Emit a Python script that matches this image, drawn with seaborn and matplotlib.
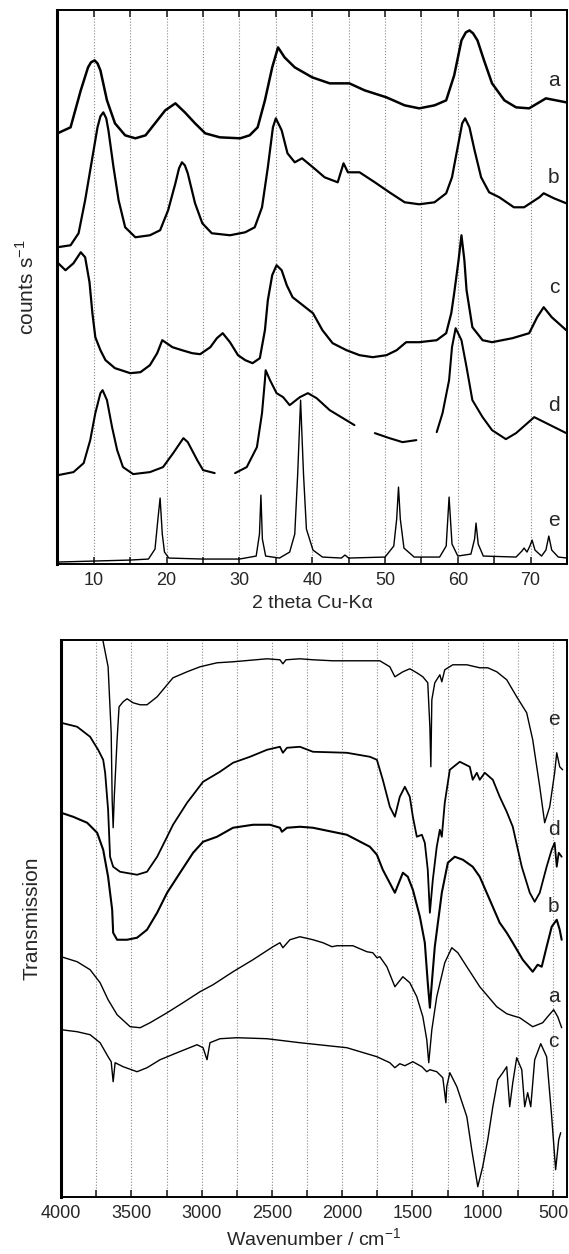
import numpy as np
import pandas as pd
import matplotlib
matplotlib.use("Agg")
import matplotlib.pyplot as plt
from matplotlib.ticker import MultipleLocator
import seaborn as sns

# ---------------- XRD data (2 theta, counts, arbitrary offset units) ----------------
xrd_a_2theta = [5.0, 6.8, 8.2, 9.2, 9.6, 10.1, 10.5, 10.9, 11.8, 12.9, 14.3, 15.7, 17.1, 18.4,
                19.8, 21.2, 22.5, 23.9, 25.3, 27.3, 30.1, 31.4, 32.5, 33.5, 34.5, 35.3, 36.2,
                37.6, 40.0, 42.4, 45.1, 47.2, 50.2, 52.7, 54.7, 56.8, 58.4, 59.5, 60.5, 61.1,
                61.6, 62.1, 62.7, 63.6, 64.7, 66.4, 68.0, 69.8, 72.1, 74.9]
xrd_a_counts = [431, 437, 474, 497, 502, 504, 501, 494, 464, 441, 429, 426, 429, 441,
                454, 461, 452, 441, 431, 427, 426, 429, 437, 464, 497, 517, 507,
                497, 487, 481, 481, 474, 467, 459, 456, 459, 464, 489, 524, 532,
                534, 531, 524, 504, 481, 464, 457, 456, 466, 462]

xrd_b_2theta = [5.0, 6.8, 7.9, 8.8, 9.8, 10.5, 10.9, 11.3, 11.7, 12.0, 12.7, 13.4, 14.3, 15.7,
                17.7, 19.1, 20.2, 21.2, 21.7, 22.1, 22.5, 22.9, 23.9, 24.9, 26.2, 28.7, 30.8,
                32.1, 33.1, 33.9, 34.6, 35.0, 35.8, 36.6, 37.6, 38.6, 40.1, 41.7, 43.5, 44.3,
                44.9, 46.5, 48.6, 50.6, 52.7, 54.7, 56.8, 58.4, 59.2, 59.9, 60.6, 61.0, 61.6,
                62.3, 63.2, 64.3, 65.7, 67.7, 69.1, 71.2, 71.8, 73.2, 74.9]
xrd_b_counts = [317, 319, 331, 364, 407, 437, 448, 452, 446, 434, 397, 364, 337, 327,
                329, 334, 354, 381, 396, 402, 399, 391, 361, 341, 331, 329, 332,
                337, 357, 397, 437, 446, 434, 411, 402, 406, 397, 387, 382, 401,
                392, 392, 382, 372, 362, 360, 362, 371, 387, 414, 441, 446, 437,
                414, 387, 372, 367, 357, 357, 367, 371, 366, 361]

xrd_c_2theta = [5.1, 6.1, 7.2, 8.2, 8.8, 9.4, 9.8, 10.2, 10.9, 11.6, 12.9, 15.0, 16.4, 17.7,
                18.7, 19.4, 19.8, 20.8, 22.1, 23.5, 24.6, 26.0, 26.9, 27.7, 28.7, 29.8, 30.8,
                31.8, 32.8, 33.5, 33.9, 34.5, 35.1, 35.8, 36.5, 37.3, 40.1, 41.4, 42.8, 44.7,
                46.5, 48.3, 50.2, 51.6, 52.9, 54.7, 57.1, 58.4, 59.1, 59.5, 60.1, 60.5, 60.9,
                61.2, 62.0, 63.4, 64.7, 67.5, 69.8, 70.9, 71.8, 72.9, 74.9]
xrd_c_counts = [301, 294, 301, 312, 307, 282, 251, 227, 214, 204, 196, 191, 192, 199,
                211, 224, 222, 217, 214, 211, 210, 217, 226, 231, 222, 209, 204,
                201, 206, 234, 264, 289, 299, 294, 279, 267, 251, 234, 221, 214,
                209, 207, 209, 214, 222, 222, 224, 231, 251, 271, 304, 329, 304,
                274, 237, 224, 222, 226, 231, 247, 257, 247, 234]

# curve d is broken in three places
xrd_d_seg = [0] * 20 + [1] * 15 + [2] * 4 + [3] * 14
xrd_d_2theta = [5.1, 7.2, 8.6, 9.5, 10.2, 10.9, 11.2, 11.8, 12.5, 13.2, 14.0, 15.4, 17.7, 19.5,
                20.9, 22.3, 22.9, 24.2, 25.0, 26.6,
                29.4, 31.0, 32.4, 33.1, 33.5, 33.6, 34.2, 35.1, 36.0, 36.9, 38.3, 39.4, 40.6,
                42.4, 45.8,
                48.6, 50.6, 52.4, 54.3,
                57.1, 57.9, 58.8, 59.2, 59.7, 60.5, 61.2, 62.0, 63.4, 64.7, 66.6, 68.0, 70.5,
                74.9]
xrd_d_counts = [89, 92, 101, 124, 151, 171, 174, 164, 137, 114, 97, 90, 92, 97,
                111, 126, 122, 104, 94, 91,
                91, 97, 117, 151, 184, 194, 184, 171, 167, 159, 167, 171, 166,
                154, 139,
                131, 126, 122, 124,
                132, 151, 184, 217, 236, 224, 197, 164, 147, 134, 125, 131, 147,
                131]

xrd_e_2theta = [5.0, 10.0, 15.0, 17.5, 18.4, 18.8, 19.1, 19.4, 19.7, 20.3, 25.0, 30.0, 32.3,
                32.75, 32.95, 33.15, 33.6, 35.5, 36.9, 37.6, 38.0, 38.4, 38.8, 39.2, 40.1,
                41.4, 44.0, 44.5, 45.0, 50.0, 51.2, 51.6, 51.85, 52.1, 52.6, 54.0, 57.5,
                58.4, 58.8, 59.2, 60.0, 61.8, 62.3, 62.5, 62.8, 63.5, 68.0, 68.8, 69.1,
                69.5, 69.9, 70.2, 70.6, 71.5, 72.1, 72.5, 72.9, 73.8, 75.0]
xrd_e_counts = [2, 3, 4, 5, 15, 45, 66, 30, 12, 6, 5, 5, 8,
                30, 69, 25, 8, 6, 12, 30, 90, 164, 90, 35, 14,
                7, 6, 9, 6, 7, 18, 45, 77, 45, 16, 7, 7,
                18, 67, 20, 8, 10, 25, 41, 20, 8, 7, 13, 16,
                12, 18, 24, 14, 8, 14, 28, 14, 7, 6]

xrd_labels = ["a", "b", "c", "d", "e"]
xrd_label_y = [484, 387, 277, 159, 44]

# ---------------- IR data (wavenumber, transmission, arbitrary offset units) ----------------
ir_e_wn = [3760, 3701, 3666, 3644, 3637, 3630, 3622, 3602, 3588, 3559, 3531, 3488, 3438, 3389,
           3317, 3246, 3204, 3104, 3012, 2891, 2777, 2535, 2443, 2422, 2400, 2301, 2208, 2066,
           1924, 1753, 1732, 1661, 1625, 1568, 1519, 1469, 1426, 1391, 1376, 1369, 1362, 1341,
           1305, 1291, 1270, 1213, 1113, 1021, 964, 900, 829, 758, 687, 644, 594, 559, 523,
           488, 473, 452, 431]
ir_e_tr = [640, 555, 530, 464, 397, 369, 400, 457, 490, 495, 498, 494, 492, 492,
           500, 512, 519, 525, 530, 534, 535, 538, 537, 533, 537, 538, 537, 536,
           536, 536, 536, 530, 520, 525, 528, 524, 520, 514, 470, 430, 497, 514,
           522, 515, 527, 532, 532, 529, 529, 525, 517, 500, 484, 457, 410, 374, 390,
           424, 444, 430, 427]

ir_d_wn = [4000, 3886, 3794, 3737, 3701, 3687, 3666, 3652, 3630, 3581, 3460, 3389, 3317, 3246,
           3204, 3104, 2990, 2870, 2777, 2656, 2535, 2443, 2422, 2393, 2301, 2208, 1967, 1803,
           1753, 1711, 1661, 1625, 1590, 1554, 1519, 1497, 1469, 1433, 1412, 1391, 1376, 1355,
           1327, 1305, 1291, 1270, 1234, 1163, 1092, 1071, 1042, 1021, 985, 928, 879, 829,
           786, 722, 665, 630, 594, 545, 509, 488, 473, 459, 438]
ir_d_tr = [474, 470, 460, 447, 437, 424, 387, 340, 330, 325, 322, 325, 340, 360,
           372, 394, 415, 425, 434, 440, 447, 450, 444, 449, 450, 445, 444, 440,
           437, 417, 390, 380, 400, 410, 400, 380, 360, 362, 354, 327, 284, 317,
           350, 367, 360, 394, 427, 435, 430, 417, 424, 417, 424, 417, 400, 385,
           370, 330, 304, 295, 304, 330, 347, 354, 330, 344, 340]

ir_b_wn = [4000, 3915, 3815, 3744, 3701, 3666, 3637, 3630, 3602, 3531, 3460, 3389, 3317, 3246,
           3154, 3061, 2990, 2891, 2777, 2635, 2514, 2443, 2429, 2393, 2301, 2208, 1967, 1803,
           1753, 1711, 1625, 1568, 1533, 1497, 1447, 1412, 1391, 1376, 1362, 1341, 1291, 1248,
           1199, 1141, 1071, 1021, 950, 879, 829, 786, 715, 644, 609, 580, 545, 509, 473,
           452, 438]
ir_b_tr = [384, 380, 374, 364, 347, 320, 287, 264, 257, 257, 259, 267, 284, 304,
           324, 344, 355, 360, 369, 372, 372, 369, 365, 369, 370, 369, 362, 350,
           342, 327, 304, 324, 320, 307, 280, 254, 214, 189, 214, 250, 304, 334,
           340, 337, 330, 320, 297, 274, 264, 254, 237, 225, 232, 230, 250, 270, 277,
           267, 257]

ir_a_wn = [4000, 3886, 3794, 3723, 3666, 3602, 3509, 3438, 3367, 3246, 3133, 3012, 2919, 2777,
           2635, 2493, 2443, 2422, 2372, 2301, 2208, 2137, 2073, 2038, 1924, 1824, 1782, 1753,
           1732, 1682, 1625, 1568, 1519, 1469, 1426, 1398, 1384, 1362, 1327, 1270, 1220, 1177,
           1113, 1021, 900, 829, 786, 737, 644, 573, 538, 495, 466, 438]
ir_a_tr = [240, 235, 227, 214, 197, 182, 170, 169, 174, 184, 194, 205, 212, 225,
           237, 250, 254, 249, 257, 260, 257, 254, 250, 251, 251, 245, 244, 239,
           240, 230, 210, 220, 214, 200, 180, 157, 134, 167, 200, 234, 249, 244,
           230, 210, 190, 183, 181, 179, 170, 174, 180, 187, 180, 169]

ir_c_wn = [4000, 3886, 3794, 3723, 3666, 3644, 3630, 3616, 3559, 3460, 3389, 3296, 3175, 3033,
           2990, 2962, 2941, 2870, 2749, 2535, 2301, 1967, 1753, 1661, 1625, 1590, 1554, 1497,
           1433, 1398, 1376, 1327, 1284, 1262, 1256, 1234, 1184, 1113, 1078, 1035, 1000, 964,
           928, 893, 857, 829, 808, 786, 758, 722, 701, 680, 658, 630, 587, 545, 509, 481,
           459, 445]
ir_c_tr = [167, 165, 162, 154, 140, 135, 115, 134, 130, 125, 129, 137, 144, 152,
           149, 137, 154, 158, 159, 158, 154, 149, 140, 134, 129, 133, 131, 135,
           130, 125, 127, 125, 119, 94, 110, 124, 110, 80, 47, 10, 30, 57,
           90, 117, 124, 130, 90, 114, 139, 127, 90, 104, 90, 137, 153, 140, 80, 27,
           57, 64]

ir_labels = ["e", "d", "b", "a", "c"]
ir_label_y = [477, 367, 290, 200, 155]

# ---------------- plotting ----------------
sns.set_style("ticks")
plt.rcParams["font.family"] = ["Liberation Sans", "DejaVu Sans"]
plt.rcParams["mathtext.fontset"] = "custom"
plt.rcParams["mathtext.rm"] = "Liberation Sans"

fig = plt.figure(figsize=(5.69, 12.54), dpi=100)
ax1 = fig.add_axes([0.101, 0.5502, 0.8955, 0.4415])
ax2 = fig.add_axes([0.1075, 0.0457, 0.889, 0.4441])


def draw(ax, x, y, lw, units=None):
    df = pd.DataFrame({"x": x, "y": y})
    if units is not None:
        df["seg"] = units
        sns.lineplot(data=df, x="x", y="y", units="seg", estimator=None, sort=False,
                     color="black", lw=lw, ax=ax)
    else:
        sns.lineplot(data=df, x="x", y="y", estimator=None, sort=False,
                     color="black", lw=lw, ax=ax)


# top panel: XRD
draw(ax1, xrd_a_2theta, xrd_a_counts, 1.8)
draw(ax1, xrd_b_2theta, xrd_b_counts, 1.6)
draw(ax1, xrd_c_2theta, xrd_c_counts, 1.6)
draw(ax1, xrd_d_2theta, xrd_d_counts, 1.5, units=xrd_d_seg)
draw(ax1, xrd_e_2theta, xrd_e_counts, 1.0)
for lab, yy in zip(xrd_labels, xrd_label_y):
    ax1.text(73.2, yy, lab, fontsize=15, ha="center", va="center")

ax1.set_xlim(5, 75)
ax1.set_ylim(0, 554)
ax1.xaxis.set_major_locator(MultipleLocator(10))
ax1.xaxis.set_minor_locator(MultipleLocator(5))
ax1.set_yticks([])
ax1.tick_params(axis="x", which="both", direction="in", top=True, length=5, width=1.2,
                labelsize=13, pad=6)
ax1.grid(axis="x", which="both", ls=":", color="#888888", lw=0.8)
ax1.set_xlabel("2 theta Cu-K\u03b1", fontsize=14, labelpad=4)
ax1.set_ylabel(r"counts s$^{\mathregular{-1}}$", fontsize=15, labelpad=14)

# bottom panel: IR
draw(ax2, ir_e_wn, ir_e_tr, 1.0)
draw(ax2, ir_d_wn, ir_d_tr, 1.3)
draw(ax2, ir_b_wn, ir_b_tr, 1.5)
draw(ax2, ir_a_wn, ir_a_tr, 1.0)
draw(ax2, ir_c_wn, ir_c_tr, 1.0)
for lab, yy in zip(ir_labels, ir_label_y):
    ax2.text(495, yy, lab, fontsize=15, ha="center", va="center")

ax2.set_xlim(4000, 400)
ax2.set_ylim(0, 557)
ax2.xaxis.set_major_locator(MultipleLocator(500))
ax2.xaxis.set_minor_locator(MultipleLocator(250))
ax2.set_yticks([])
ax2.tick_params(axis="x", which="both", direction="in", length=5, width=1.2,
                labelsize=13, pad=6)
ax2.grid(axis="x", which="both", ls=":", color="#888888", lw=0.8)
ax2.set_xlabel(r"Wavenumber / cm$^{\mathregular{-1}}$", fontsize=14, labelpad=4)
ax2.set_ylabel("Transmission", fontsize=15, labelpad=14)

for ax in (ax1, ax2):
    for sp in ax.spines.values():
        sp.set_linewidth(1.4)
        sp.set_color("black")
    ax.spines["left"].set_linewidth(2.2)

fig.savefig("out.png", dpi=100)
